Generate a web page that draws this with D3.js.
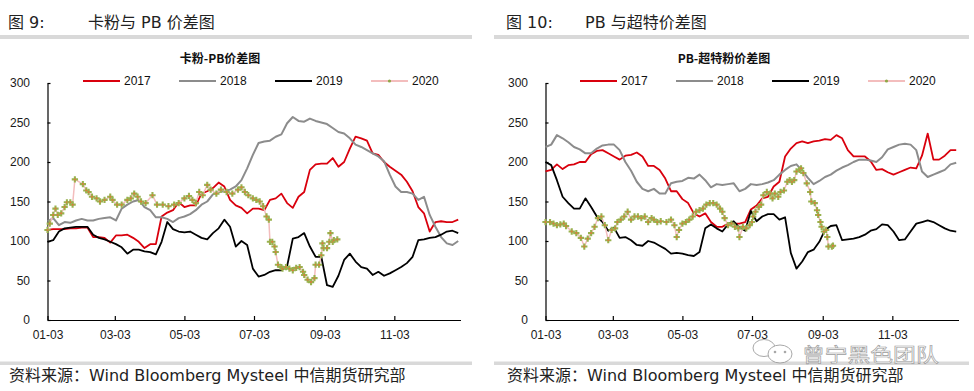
<!DOCTYPE html>
<html>
<head>
<meta charset="utf-8">
<script src="https://cdn.jsdelivr.net/npm/d3@7"></script>
<style>
  body { margin: 0; background: #fff; }
  svg { display: block; }
</style>
</head>
<body>
<svg id="page" width="974" height="391"></svg>
<script>
// ---- data ----
const years = ["2017", "2018", "2019", "2020"];
const xTickLabels = ["01-03", "03-03", "05-03", "07-03", "09-03", "11-03"];
const yTicks = [0, 50, 100, 150, 200, 250, 300];

// 2017-2019 sampled every 5 days from 01-03
const gridStart = "01-03";
const gridStep = 5;

// 卡粉-PB
const kfPb2017 = [114,115,115,115,116,116,117,117,105,105,104,98,107,107,108,104,99,91,96,96,
  131,136,139,149,143,145,145,160,163,167,174,169,152,145,142,135,141,
  141,139,152,154,160,148,142,156,162,190,197,198,198,205,194,200,217,232,230,227,211,209,200,194,189,184,175,163,143,135,112,124,125,124,124,127];
const kfPb2018 = [125,129,120,124,123,126,128,126,126,128,129,130,126,141,146,150,152,143,139,130,130,128,124,129,131,134,139,146,150,159,162,163,165,169,177,192,209,
  224,226,227,232,235,249,257,252,251,255,252,250,248,243,238,236,230,222,219,215,211,207,201,184,169,162,162,160,152,156,133,118,105,97,95,100];
const kfPb2019 = [99,101,112,116,117,118,118,118,108,104,102,99,96,92,84,89,89,87,86,83,99,124,115,112,111,112,108,104,102,110,116,127,118,93,100,95,65,
  55,57,61,63,63,68,103,105,110,93,80,80,44,42,56,76,84,74,67,65,57,61,56,59,63,67,72,80,101,102,104,105,108,112,113,110];
const kfPbDates2020 = ["01-03","01-05","01-08","01-10","01-12","01-15","01-18","01-20","01-23","01-25","01-27","02-03","02-06","02-08","02-11","02-15","02-18","02-22","02-27","03-01",
  "03-05","03-09","03-14","03-17","03-20","03-23","03-26","03-30","04-05","04-09","04-14","04-19","04-24","04-28","05-03","05-07","05-10","05-13","05-16","05-19",
  "05-23","05-26","05-31","06-04","06-09","06-14","06-19","06-22","06-25","06-28","07-02","07-05","07-08","07-11","07-14","07-16","07-17","07-19","07-21","07-22",
  "07-24","07-27","07-28","07-31","08-03","08-06","08-09","08-12","08-15","08-16","08-19","08-22","08-25","08-26","08-29","08-31","09-01","09-02","09-05","09-07",
  "09-08","09-10","09-11","09-14"];
const kfPb2020 = [114,122,133,141,133,135,143,149,149,146,178,172,164,162,156,154,150,152,156,152,
  146,146,152,154,160,156,150,148,158,146,146,144,146,148,154,157,152,148,162,158,
  171,165,160,165,162,160,165,168,162,158,154,152,150,144,131,127,99,99,93,86,
  70,67,65,67,65,63,66,67,61,57,51,48,53,70,70,82,97,91,91,99,
  110,99,101,102];

// PB-超特粉
const pbCt2017 = [188,190,197,191,196,197,200,200,210,214,215,211,207,203,208,209,212,207,195,195,190,179,163,163,153,148,135,131,135,124,118,118,122,122,122,124,140,
  145,154,156,169,175,207,217,224,226,224,226,227,229,228,234,230,215,207,207,207,201,190,191,187,184,187,190,193,192,208,236,203,203,208,215,215];
const pbCt2018 = [219,222,234,230,225,219,216,211,211,217,221,222,222,215,200,189,175,166,163,166,160,160,173,175,176,180,179,184,177,168,172,171,172,173,163,166,172,
  171,172,174,177,184,190,195,197,189,180,172,176,181,184,189,193,196,200,203,203,202,200,206,216,219,222,223,222,215,188,181,184,187,190,197,199];
const pbCt2019 = [200,196,177,156,148,141,141,154,143,131,124,113,117,104,105,101,95,94,100,98,94,90,84,85,84,82,81,86,116,121,116,112,121,125,117,113,138,
  125,131,134,134,127,130,85,65,74,86,89,99,114,119,120,101,102,103,105,108,113,115,121,120,112,101,102,112,122,124,126,124,120,116,113,112];
const pbCtDates2020 = ["01-03","01-07","01-10","01-13","01-16","01-19","01-21","01-26","01-30","02-03","02-06","02-09","02-12","02-15","02-18","02-21","02-24","02-27","03-02","03-05",
  "03-07","03-10","03-13","03-16","03-19","03-22","03-25","03-28","03-31","04-03","04-06","04-08","04-11","04-14","04-19","04-23","04-26","04-28","04-30","05-03",
  "05-06","05-09","05-12","05-15","05-18","05-21","05-24","05-27","05-30","06-02","06-05","06-07","06-09","06-12","06-15","06-18","06-21","06-22","06-25","06-28",
  "07-01","07-03","07-04","07-06","07-09","07-11","07-13","07-16","07-19","07-21","07-23","07-26","07-28","07-31","08-03","08-05","08-07","08-09","08-11","08-14",
  "08-15","08-17","08-20","08-23","08-24","08-27","08-29","08-30","09-01","09-02","09-04","09-06","09-07","09-08","09-11","09-12"];
const pbCt2020 = [124,124,122,120,121,122,119,112,110,104,93,103,110,118,129,131,120,101,114,116,
  124,127,131,137,127,131,131,129,131,124,129,127,124,125,124,127,120,105,114,122,
  124,127,131,137,139,141,146,148,148,146,141,137,129,120,122,118,116,105,118,116,
  120,124,131,137,143,146,158,162,160,154,160,156,162,164,175,177,175,177,188,190,
  192,186,173,162,150,148,139,133,124,118,112,114,105,93,93,94];

// ---- helpers ----
const parseMD = s => d3.timeParse("%Y-%m-%d")("2001-" + s);
const gridSeries = vals => vals.map((v, i) => ({ date: d3.timeDay.offset(parseMD(gridStart), i * gridStep), value: v }));
const datedSeries = (dates, vals) => vals.map((v, i) => ({ date: parseMD(dates[i]), value: v }));

const colours = { "2017": "#d9000d", "2018": "#8c8c8c", "2019": "#000000", "2020": "#f3bdbd" };
const widths = { "2017": 1.8, "2018": 2, "2019": 1.8, "2020": 1.5 };
const axisFont = '"Liberation Sans", Arial, sans-serif';
const cjkFont = '"DejaVu Sans", "Noto Sans CJK SC", sans-serif';

class SpreadChart {
  constructor(_config, _series) {
    this.config = {
      parentElement: _config.parentElement,
      left: _config.left,
      width: _config.width || 413,
      top: _config.top || 83,
      height: _config.height || 237,
      title: _config.title,
      titleX: _config.titleX,
      legendX: _config.legendX
    };
    this.series = _series;
  }

  initVis() {
    let vis = this;
    vis.svg = d3.select(vis.config.parentElement);
    vis.chart = vis.svg.append("g")
      .attr("transform", `translate(${vis.config.left},${vis.config.top})`);

    vis.xScale = d3.scaleTime()
      .domain([parseMD("01-03"), parseMD("12-31")])
      .range([0, vis.config.width]);

    vis.yScale = d3.scaleLinear()
      .domain([0, 300])
      .range([vis.config.height, 0]);

    vis.line = d3.line()
      .x(d => vis.xScale(d.date))
      .y(d => vis.yScale(d.value));

    vis.render();
  }

  render() {
    let vis = this;

    // axes, ticks pointing inward
    const xAxis = d3.axisBottom(vis.xScale)
      .tickValues(xTickLabels.map(parseMD))
      .tickFormat(d3.timeFormat("%m-%d"))
      .tickSizeInner(-4).tickSizeOuter(0).tickPadding(10);
    const yAxis = d3.axisLeft(vis.yScale)
      .tickValues(yTicks)
      .tickFormat(d3.format("d"))
      .tickSizeInner(-3).tickSizeOuter(0).tickPadding(17.5);

    vis.chart.append("g")
      .attr("transform", `translate(0,${vis.config.height})`)
      .call(xAxis);
    vis.chart.append("g").call(yAxis);

    vis.chart.selectAll(".domain, .tick line")
      .attr("stroke", "#000").attr("stroke-width", 1.2);
    vis.chart.selectAll(".tick text")
      .attr("font-family", axisFont).attr("font-size", 12).attr("fill", "#1a1a1a");

    // lines
    vis.chart.selectAll(".series")
      .data(vis.series)
      .join("path")
        .attr("class", "series")
        .attr("fill", "none")
        .attr("stroke", d => colours[d.key])
        .attr("stroke-width", d => widths[d.key])
        .attr("stroke-linejoin", "round")
        .attr("d", d => vis.line(d.values));

    // 2020 markers
    const pts = vis.series.find(s => s.key === "2020").values;
    const marks = vis.chart.append("g").selectAll("g")
      .data(pts)
      .join("g")
        .attr("transform", d => `translate(${vis.xScale(d.date)},${vis.yScale(d.value)})`);
    vis.drawMarker(marks);

    // title
    vis.svg.append("text")
      .attr("x", vis.config.titleX).attr("y", 62.5)
      .attr("text-anchor", "middle")
      .attr("font-family", '"Noto Sans CJK SC", sans-serif')
      .attr("font-weight", "bold").attr("font-size", 12).attr("fill", "#111")
      .text(vis.config.title);

    // legend
    const legend = vis.svg.append("g")
      .attr("transform", `translate(${vis.config.legendX},81)`)
      .selectAll("g")
      .data(years)
      .join("g")
        .attr("transform", (d, i) => `translate(${i * 96},0)`);
    legend.append("line")
      .attr("x1", 0).attr("x2", 37)
      .attr("stroke", d => colours[d])
      .attr("stroke-width", d => d === "2020" ? 1.8 : 2);
    legend.append("text")
      .attr("x", 41).attr("dy", "0.36em")
      .attr("font-family", axisFont).attr("font-size", 12).attr("fill", "#111")
      .text(d => d);
    legend.filter(d => d === "2020").append("circle")
      .attr("cx", 18.5).attr("r", 1.6).attr("fill", "#8fa646");
  }

  drawMarker(sel) {
    sel.append("path")
      .attr("d", d3.symbol().type(d3.symbolCross).size(22))
      .attr("fill", "#98b24f");
    sel.append("circle")
      .attr("r", 1)
      .attr("fill", "#e0783a");
  }
}

const svg = d3.select("#page");

// headers, bands, footers
const panels = [
  { x: 0, w: 472, fig: "图 9:", figTitleX: 88, textX: 8, name: "卡粉与 PB 价差图" },
  { x: 494, w: 475, fig: "图 10:", figTitleX: 585, textX: 506, name: "PB 与超特价差图" }
];
panels.forEach(p => {
  svg.append("rect").attr("x", p.x).attr("y", 35).attr("width", p.w).attr("height", 4).attr("fill", "#d9d9d9");
  svg.append("rect").attr("x", p.x).attr("y", 361.5).attr("width", p.w).attr("height", 3.5).attr("fill", "#d9d9d9");
  svg.append("text").attr("x", p.textX).attr("y", 28)
    .attr("font-family", cjkFont).attr("font-size", 16).attr("fill", "#222").text(p.fig);
  svg.append("text").attr("x", p.figTitleX).attr("y", 28)
    .attr("font-family", cjkFont).attr("font-size", 16).attr("fill", "#222").text(p.name);
  svg.append("text").attr("x", p.textX + 1).attr("y", 381)
    .attr("font-family", cjkFont).attr("font-size", 16).attr("fill", "#222")
    .text("资料来源：Wind Bloomberg Mysteel 中信期货研究部");
});

const kfChart = new SpreadChart({
  parentElement: "#page", left: 47.5, title: "卡粉-PB价差图", titleX: 220, legendX: 83
}, [
  { key: "2017", values: gridSeries(kfPb2017) },
  { key: "2018", values: gridSeries(kfPb2018) },
  { key: "2019", values: gridSeries(kfPb2019) },
  { key: "2020", values: datedSeries(kfPbDates2020, kfPb2020) }
]);
kfChart.initVis();

const pbChart = new SpreadChart({
  parentElement: "#page", left: 545.5, title: "PB-超特粉价差图", titleX: 724, legendX: 580
}, [
  { key: "2017", values: gridSeries(pbCt2017) },
  { key: "2018", values: gridSeries(pbCt2018) },
  { key: "2019", values: gridSeries(pbCt2019) },
  { key: "2020", values: datedSeries(pbCtDates2020, pbCt2020) }
]);
pbChart.initVis();

// watermark on the right panel
const wm = svg.append("g").attr("opacity", 0.85);
wm.append("ellipse").attr("cx", 764).attr("cy", 348).attr("rx", 11).attr("ry", 8.5)
  .attr("fill", "#fff").attr("stroke", "#9a9a9a").attr("stroke-width", 1);
wm.append("ellipse").attr("cx", 780).attr("cy", 354).attr("rx", 12).attr("ry", 9)
  .attr("fill", "#fff").attr("stroke", "#9a9a9a").attr("stroke-width", 1);
[775, 785].forEach(cx => wm.append("circle").attr("cx", cx).attr("cy", 352).attr("r", 1.3).attr("fill", "#9a9a9a"));
wm.append("text")
  .attr("transform", "translate(802,362) scale(1.2,1)")
  .attr("font-family", '"Noto Sans CJK SC", sans-serif').attr("font-size", 19)
  .attr("fill", "#fafafa").attr("stroke", "#8c8c8c").attr("stroke-width", 0.6)
  .text("曾宁黑色团队");
</script>
</body>
</html>
